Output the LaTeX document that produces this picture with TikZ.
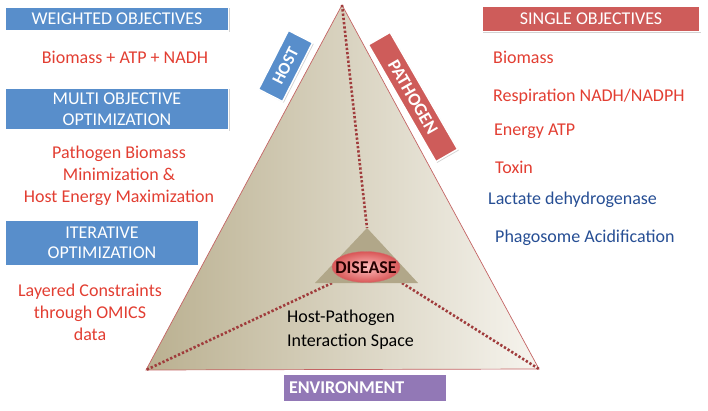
\documentclass[tikz,border=0pt]{standalone}
\usepackage{fontspec}
\setmainfont{Carlito}
\usetikzlibrary{shadows,shapes.geometric}
\definecolor{boxblue}{RGB}{88,142,203}
\definecolor{boxred}{RGB}{206,92,90}
\definecolor{boxpurple}{RGB}{146,120,182}
\definecolor{txtred}{RGB}{226,62,50}
\definecolor{txtblue}{RGB}{38,78,148}
\definecolor{tridark}{RGB}{186,176,144}
\definecolor{trilight}{RGB}{246,244,238}
\definecolor{dotred}{RGB}{160,60,60}
\definecolor{edgered}{RGB}{196,100,100}
\tikzset{
  x=1pt, y=-1pt,
  labelbox/.style={draw=white, line width=1.5pt, text=white, align=center,
    inner sep=0pt, font=\fontsize{18}{20.5}\selectfont,
    drop shadow={opacity=0.35, shadow xshift=1.2pt, shadow yshift=-1.2pt}},
  redtxt/.style={text=txtred, font=\fontsize{18}{22}\selectfont, align=center, inner sep=0pt},
  bluetxt/.style={text=txtblue, font=\fontsize{18}{22}\selectfont, inner sep=0pt},
  dotline/.style={dotred, line width=2.6pt, dash pattern=on 2.3pt off 2pt},
}
\begin{document}
\begin{tikzpicture}
\useasboundingbox (0,0) rectangle (708,411);
% main triangle
\coordinate (apex) at (342,5);
\coordinate (bl) at (146,370);
\coordinate (br) at (539,369);
\shade[left color=tridark, right color=trilight] (apex) -- (bl) -- (br) -- cycle;
\draw[edgered, line width=0.7pt] (apex) -- (bl) -- (br) -- cycle;
% inner triangle
\coordinate (ia) at (367,228);
\coordinate (il) at (315,283);
\coordinate (ir) at (418,283);
\coordinate (dl) at (332,283);
\coordinate (dr) at (402,283);
\draw[dotline] (apex) -- (ia);
\draw[dotline] (dl) -- (bl);
\draw[dotline] (dr) -- (br);
\fill[tridark!95!black] (ia) -- (il) -- (ir) -- cycle;
\node[ellipse, minimum width=68pt, minimum height=31pt, inner sep=0pt,
  shading=radial, inner color=red!25, outer color=red!60!white!85!black,
  draw=red!45!white!80!black, line width=0.4pt] (disease) at (366,267) {};
\node[font=\bfseries\fontsize{18}{20}\selectfont, text=black!85!red, inner sep=0pt] (diseasetxt) at (366,268) {DISEASE};
\node[font=\fontsize{18}{24}\selectfont, align=left, anchor=west, inner sep=0pt] (space) at (287,330) {Host-Pathogen\\Interaction Space};
% environment
\node[labelbox, fill=boxpurple, minimum width=164pt, minimum height=28pt, font=\bfseries\fontsize{18}{20}\selectfont, text width=152pt, align=left] (env) at (365,388) {ENVIRONMENT};
% host / pathogen
\node[labelbox, fill=boxblue, minimum width=66pt, minimum height=27pt, rotate=63, font=\bfseries\fontsize{17}{19}\selectfont] (host) at (285.5,66) {HOST};
\node[labelbox, fill=boxred, minimum width=135pt, minimum height=25pt, rotate=-60, font=\bfseries\fontsize{18}{20}\selectfont] (pathogen) at (413,97) {PATHOGEN};
% left column
\node[labelbox, fill=boxblue, minimum width=223pt, minimum height=24pt] (wo) at (117,19) {WEIGHTED OBJECTIVES};
\node[redtxt] (wot) at (125,57) {Biomass + ATP + NADH};
\node[labelbox, fill=boxblue, minimum width=223pt, minimum height=42pt] (moo) at (117,109) {MULTI OBJECTIVE\\OPTIMIZATION};
\node[redtxt] (moot) at (119,176) {Pathogen Biomass\\Minimization \&\\Host Energy Maximization};
\node[labelbox, fill=boxblue, minimum width=194pt, minimum height=46pt] (io) at (102,243) {ITERATIVE\\OPTIMIZATION};
\node[redtxt] (iot) at (90,312) {Layered Constraints\\through OMICS\\data};
% right column
\node[labelbox, fill=boxred, minimum width=218pt, minimum height=25pt] (so) at (591,19) {SINGLE OBJECTIVES};
\node[redtxt, anchor=west] (s1) at (493,57) {Biomass};
\node[redtxt, anchor=west] (s2) at (493,97) {Respiration NADH/NADPH};
\node[redtxt, anchor=west] (s3) at (494,131) {Energy ATP};
\node[redtxt, anchor=west] (s4) at (495,167) {Toxin};
\node[bluetxt, anchor=west] (s5) at (488,200) {Lactate dehydrogenase};
\node[bluetxt, anchor=west] (s6) at (495,238) {Phagosome Acidification};
\end{tikzpicture}
\end{document}
